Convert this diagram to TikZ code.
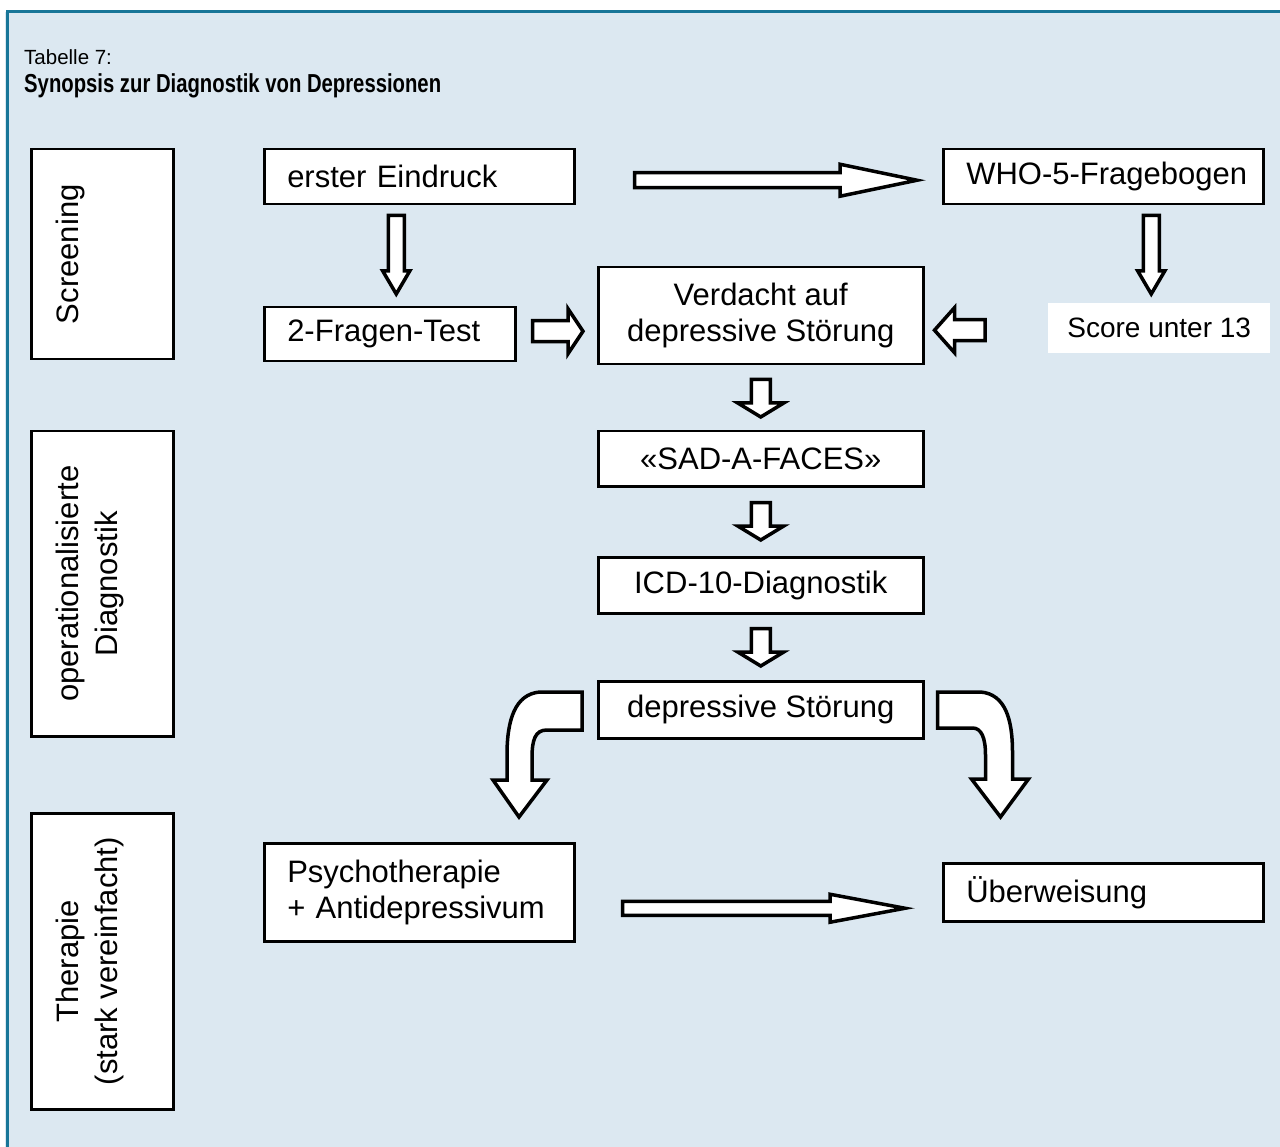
\documentclass[tikz,border=0pt]{standalone}
\usepackage{fontspec}
\setmainfont{Liberation Sans}
\newfontfamily\narrowfont[FakeStretch=0.78]{Liberation Sans}
\usetikzlibrary{calc}

\definecolor{panelbg}{RGB}{220,232,241}
\definecolor{panelline}{RGB}{24,118,152}

\tikzset{
	fbox/.style={draw, fill=white, line width=2.5pt, anchor=north west, inner sep=0pt, align=center, font=\fontsize{31}{36}\selectfont},
	leftbox/.style={fbox, align=left, inner xsep=23pt},
	sidebox/.style={draw, fill=white, line width=2.5pt, anchor=north west, minimum width=142pt},
	sidetext/.style={rotate=90, anchor=north, inner sep=0pt, align=center, font=\fontsize{31}{39}\selectfont},
	blockarr/.style={draw, fill=white, line width=3.5pt, line join=miter},
}

% straight block arrows: start, end, shaft half width, head half width, head length
\newcommand{\harrow}[5]{%
	\path[blockarr] let \p1=(#1), \p2=(#2) in
	(\x1,{\y1+#3pt}) -- ({\x2-(#5pt)},{\y1+#3pt}) -- ({\x2-(#5pt)},{\y1+#4pt})
	-- (\x2,\y1) -- ({\x2-(#5pt)},{\y1-#4pt}) -- ({\x2-(#5pt)},{\y1-#3pt})
	-- (\x1,{\y1-#3pt}) -- cycle;}
\newcommand{\varrow}[5]{%
	\path[blockarr] let \p1=(#1), \p2=(#2) in
	({\x1-#3pt},\y1) -- ({\x1+#3pt},\y1) -- ({\x1+#3pt},{\y2+#5pt}) -- ({\x1+#4pt},{\y2+#5pt})
	-- (\x1,\y2) -- ({\x1-#4pt},{\y2+#5pt}) -- ({\x1-#3pt},{\y2+#5pt}) -- cycle;}

\begin{document}
\begin{tikzpicture}[x=1pt, y=-1pt]
	\useasboundingbox (0,0) rectangle (1280,1147);
	\fill[panelbg] (5,12) rectangle (1280,1147);
	\draw[panelline, line width=3pt] (7,1147) -- (7,12) -- (1280,12);
	
	% title
	\node[anchor=base west, inner sep=0pt, font=\fontsize{20.5}{24}\selectfont] (tab) at (24,65) {Tabelle 7:};
	\node[anchor=base west, inner sep=0pt, font=\narrowfont\bfseries\fontsize{26}{30}\selectfont] (titel) at (24,93) {Synopsis zur Diagnostik von Depressionen};
	
	% phases
	\node[sidebox, minimum height=210pt] (screen) at (30,148) {};
	\node[sidetext] at ($(screen.west)+(26,0)$) {Screening};
	\node[sidebox, minimum height=305pt] (opdiag) at (30,430) {};
	\node[sidetext] at ($(opdiag.west)+(26,0)$) {operationalisierte\\Diagnostik};
	\node[sidebox, minimum height=296pt] (therapie) at (30,812) {};
	\node[sidetext] at ($(therapie.west)+(26,0)$) {Therapie\\(stark vereinfacht)};
	
	% steps
	\node[leftbox, text width=264pt, minimum height=55pt] (eindruck) at (263,148) {erster Eindruck};
	\node[leftbox, text width=274pt, minimum height=55pt] (who) at (942,148) {\mbox{WHO-5-Fragebogen}};
	\node[leftbox, text width=205pt, minimum height=54pt] (fragen) at (263,306) {2-Fragen-Test};
	\node[fbox, minimum width=325pt, minimum height=97pt] (verdacht) at (597,266) {Verdacht auf\\depressive Störung};
	\node[fill=white, anchor=north west, minimum width=222pt, minimum height=50pt, font=\fontsize{28}{32}\selectfont] (score) at (1048,303) {Score unter 13};
	\node[fbox, minimum width=325pt, minimum height=55pt] (sad) at (597,430) {«SAD-A-FACES»};
	\node[fbox, minimum width=325pt, minimum height=56pt] (icd) at (597,556) {ICD-10-Diagnostik};
	\node[fbox, minimum width=325pt, minimum height=57pt] (stoerung) at (597,680) {depressive Störung};
	\node[leftbox, text width=264pt, minimum height=98pt] (psycho) at (263,842) {Psychotherapie\\+ Antidepressivum};
	\node[leftbox, text width=274pt, minimum height=58pt] (ueber) at (942,862) {Überweisung};
	
	% block arrows
	\harrow{[xshift=59pt,yshift=-3.5pt]eindruck.east}{[xshift=-25pt]who.west}{7.5}{16}{77}
	\varrow{[xshift=-23pt,yshift=-10pt]eindruck.south}{[yshift=12pt]fragen.north}{8}{13.5}{23}
	\varrow{[xshift=48pt,yshift=-10pt]who.south}{[yshift=9pt]score.north}{8}{13.5}{23}
	\harrow{[xshift=16pt,yshift=3pt]fragen.east}{[xshift=-14pt]verdacht.west}{10.5}{22.5}{15}
	\harrow{[xshift=-63pt,yshift=-2pt]score.west}{[xshift=10pt]verdacht.east}{10.5}{22.5}{-20}
	\varrow{[yshift=-14pt]verdacht.south}{[yshift=13pt]sad.north}{9.5}{23}{14}
	\varrow{[yshift=-15pt]sad.south}{[yshift=16pt]icd.north}{9.5}{23}{14}
	\varrow{[yshift=-14pt]icd.south}{[yshift=14pt]stoerung.north}{9.5}{23}{14}
	\harrow{[xshift=47pt,yshift=-16pt]psycho.east}{[xshift=-37pt]ueber.west}{7}{14}{75}
	
	% curved arrows
	\draw[blockarr, shift={(stoerung.north west)}] (-15,12) -- (-57,12)
		.. controls (-82,14) and (-90,40) .. (-90,75) -- (-90,100) -- (-104,100) -- (-78,137)
		-- (-50,100) -- (-65,100) -- (-65,78) .. controls (-65,60) and (-62,50) .. (-50,50)
		-- (-15,50) -- cycle;
	\draw[blockarr, shift={(stoerung.north east)}] (13,12) -- (56,12)
		.. controls (81,14) and (88,40) .. (88,72) -- (88,99) -- (104,99) -- (76,137)
		-- (47,99) -- (61,99) -- (61,75) .. controls (61,58) and (57,48) .. (48,48)
		-- (13,48) -- cycle;
\end{tikzpicture}
\end{document}
